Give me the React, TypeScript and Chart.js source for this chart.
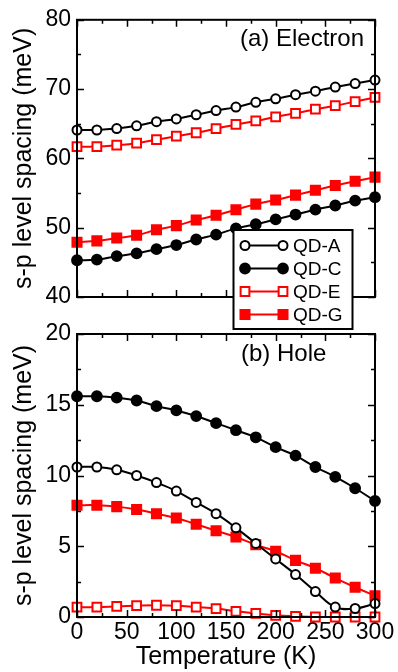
import React, { useEffect, useRef } from 'react';
import { Chart, registerables } from 'chart.js';

Chart.register(...registerables);

// ---------- data ----------
const temperatures = [0, 20, 40, 60, 80, 100, 120, 140, 160, 180, 200, 220, 240, 260, 280, 300];
const seriesNames = ['QD-A', 'QD-C', 'QD-E', 'QD-G'];

const electronA = [64.1, 64.1, 64.3, 64.7, 65.3, 65.7, 66.3, 66.9, 67.4, 68.1, 68.6, 69.2, 69.7, 70.3, 70.8, 71.3];
const electronC = [45.3, 45.4, 45.9, 46.3, 46.9, 47.5, 48.3, 49.0, 49.9, 50.5, 51.2, 51.9, 52.6, 53.2, 53.9, 54.4];
const electronE = [61.7, 61.7, 61.9, 62.2, 62.7, 63.2, 63.7, 64.3, 64.9, 65.4, 66.0, 66.5, 67.1, 67.6, 68.2, 68.8];
const electronG = [47.9, 48.1, 48.5, 48.9, 49.7, 50.3, 51.1, 51.8, 52.6, 53.4, 54.0, 54.7, 55.4, 56.1, 56.7, 57.3];

const holeA = [10.6, 10.6, 10.4, 10.0, 9.5, 8.9, 8.1, 7.3, 6.3, 5.2, 4.1, 3.0, 1.8, 0.7, 0.6, 0.95];
const holeC = [15.6, 15.6, 15.5, 15.3, 14.9, 14.6, 14.2, 13.7, 13.2, 12.7, 12.0, 11.4, 10.6, 9.9, 9.1, 8.2];
const holeE = [0.7, 0.7, 0.75, 0.8, 0.83, 0.8, 0.7, 0.6, 0.4, 0.25, 0.12, 0.05, 0, 0, 0, 0];
const holeG = [7.9, 7.9, 7.8, 7.6, 7.3, 7.0, 6.55, 6.1, 5.65, 5.1, 4.65, 4.0, 3.45, 2.75, 2.1, 1.5];

const electronRange = [40, 80];
const holeRange = [0, 20];
const temperatureRange = [0, 300];

const panelLabels = ['(a) Electron', '(b) Hole'];
const yTitle = 's-p level spacing (meV)';
const xTitle = 'Temperature (K)';

// ---------- styles ----------
const FONT = '"Liberation Sans", Arial, Helvetica, sans-serif';
const W = 398;
const H = 672;

const seriesStyles = [
  { color: '#000000', fill: '#ffffff', pointStyle: 'circle', radius: 4.5 },
  { color: '#000000', fill: '#000000', pointStyle: 'circle', radius: 4.9 },
  { color: '#ff0000', fill: '#ffffff', pointStyle: 'rect', radius: 6.2 },
  { color: '#ff0000', fill: '#ff0000', pointStyle: 'rect', radius: 6.4 },
];

function makeDatasets(series: number[][]) {
  return series.map((vals, i) => {
    const s = seriesStyles[i];
    return {
      label: seriesNames[i],
      data: temperatures.map((t, k) => ({ x: t, y: vals[k] })),
      borderColor: s.color,
      backgroundColor: s.fill,
      borderWidth: 2,
      pointStyle: s.pointStyle,
      pointRadius: s.radius,
      pointHoverRadius: s.radius,
      pointBorderWidth: 2,
      pointBorderColor: s.color,
      pointBackgroundColor: s.fill,
      tension: 0.4,
      clip: false as any,
    };
  });
}

function drawMarker(ctx: CanvasRenderingContext2D, i: number, x: number, y: number) {
  const s = seriesStyles[i];
  ctx.beginPath();
  if (s.pointStyle === 'circle') {
    ctx.arc(x, y, s.radius, 0, Math.PI * 2);
  } else {
    const h = s.radius * Math.SQRT1_2;
    ctx.rect(x - h, y - h, 2 * h, 2 * h);
  }
  ctx.fillStyle = s.fill;
  ctx.fill();
  ctx.lineWidth = 2;
  ctx.strokeStyle = s.color;
  ctx.stroke();
}

const framePlugin = {
  id: 'frameTicks',
  afterDatasetsDraw(chart: any, _args: any, opts: any) {
    const { ctx, chartArea } = chart;
    const { left, right, top, bottom } = chartArea;
    const xs = chart.scales.x;
    const ys = chart.scales.y;
    ctx.save();
    ctx.strokeStyle = '#000';
    ctx.lineWidth = 1.5;
    const major = 7;
    const minor = 4;
    const eps = 1e-6;
    for (let v = xs.min; v <= xs.max + eps; v += opts.xMinor) {
      const px = Math.round(xs.getPixelForValue(v)) + 0.5;
      const isMajor = Math.abs(v / opts.xMajor - Math.round(v / opts.xMajor)) < eps;
      const len = isMajor ? major : minor;
      ctx.beginPath();
      ctx.moveTo(px, bottom);
      ctx.lineTo(px, bottom - len);
      ctx.moveTo(px, top);
      ctx.lineTo(px, top + len);
      ctx.stroke();
    }
    for (let v = ys.min; v <= ys.max + eps; v += opts.yMinor) {
      const py = Math.round(ys.getPixelForValue(v)) + 0.5;
      const isMajor = Math.abs(v / opts.yMajor - Math.round(v / opts.yMajor)) < eps;
      const len = isMajor ? major : minor;
      ctx.beginPath();
      ctx.moveTo(left, py);
      ctx.lineTo(left + len, py);
      ctx.moveTo(right, py);
      ctx.lineTo(right - len, py);
      ctx.stroke();
    }
    ctx.lineWidth = 2;
    ctx.strokeRect(left, top, right - left, bottom - top);

    // panel label
    ctx.fillStyle = '#000';
    ctx.font = `${opts.labelSize}px ${FONT}`;
    ctx.textBaseline = 'alphabetic';
    ctx.textAlign = opts.labelAlign;
    ctx.fillText(opts.label, opts.labelX, opts.labelY);

    // legend
    if (opts.legend) {
      const bx = 233.5, by = 230, bw = 119, bh = 99;
      ctx.fillStyle = '#fff';
      ctx.fillRect(bx, by, bw, bh);
      ctx.lineWidth = 2;
      ctx.strokeStyle = '#000';
      ctx.strokeRect(bx, by, bw, bh);
      ctx.font = `19px ${FONT}`;
      ctx.textAlign = 'left';
      ctx.textBaseline = 'middle';
      chart.data.datasets.forEach((ds: any, i: number) => {
        const cy = 245.5 + i * 23;
        const x1 = 245, x2 = 283;
        ctx.beginPath();
        ctx.moveTo(x1, cy);
        ctx.lineTo(x2, cy);
        ctx.lineWidth = 2;
        ctx.strokeStyle = seriesStyles[i].color;
        ctx.stroke();
        drawMarker(ctx, i, x1, cy);
        drawMarker(ctx, i, x2, cy);
        ctx.fillStyle = '#000';
        ctx.fillText(ds.label, 293, cy + 1);
      });
    }
    ctx.restore();
  },
};

function baseOptions(yRange: number[], yStep: number, bottomPanel: boolean, plugin: any) {
  return {
    responsive: false,
    animation: false as const,
    devicePixelRatio: 1,
    layout: {
      padding: bottomPanel
        ? { left: 0, top: 334, right: 23, bottom: 0 }
        : { left: 0, top: 15, right: 23, bottom: H - 297 },
    },
    plugins: {
      legend: { display: false },
      tooltip: { enabled: false },
      frameTicks: plugin,
    },
    scales: {
      x: {
        type: 'linear' as const,
        min: temperatureRange[0],
        max: temperatureRange[1],
        grid: { display: false, drawTicks: false },
        border: { display: false },
        ticks: {
          display: bottomPanel,
          stepSize: 50,
          padding: 2,
          color: '#000',
          font: { family: FONT, size: 23 },
          maxRotation: 0,
        },
        title: {
          display: bottomPanel,
          text: xTitle,
          color: '#000',
          font: { family: FONT, size: 25 },
          padding: { top: 0, bottom: 0 },
        },
        afterFit: (s: any) => {
          s.height = bottomPanel ? H - 617 : 0;
        },
      },
      y: {
        type: 'linear' as const,
        min: yRange[0],
        max: yRange[1],
        grid: { display: false, drawTicks: false },
        border: { display: false },
        ticks: {
          stepSize: yStep,
          padding: 6,
          color: '#000',
          font: { family: FONT, size: 23 },
        },
        title: {
          display: true,
          text: yTitle,
          color: '#000',
          font: { family: FONT, size: 25 },
          padding: { top: 9, bottom: 0 },
        },
        afterFit: (s: any) => {
          s.width = 77;
        },
      },
    },
  };
}

export default function App() {
  const topRef = useRef<HTMLCanvasElement | null>(null);
  const botRef = useRef<HTMLCanvasElement | null>(null);

  useEffect(() => {
    const top = new Chart(topRef.current as HTMLCanvasElement, {
      type: 'line',
      data: { datasets: makeDatasets([electronA, electronC, electronE, electronG]) as any },
      options: baseOptions(electronRange, 10, false, {
        xMinor: 25, xMajor: 50, yMinor: 5, yMajor: 10,
        label: panelLabels[0], labelX: 364, labelY: 46, labelAlign: 'right', labelSize: 24,
        legend: true,
      }) as any,
      plugins: [framePlugin],
    });
    const bot = new Chart(botRef.current as HTMLCanvasElement, {
      type: 'line',
      data: { datasets: makeDatasets([holeA, holeC, holeE, holeG]) as any },
      options: baseOptions(holeRange, 5, true, {
        xMinor: 25, xMajor: 50, yMinor: 2.5, yMajor: 5,
        label: panelLabels[1], labelX: 241, labelY: 361, labelAlign: 'left', labelSize: 24,
        legend: false,
      }) as any,
      plugins: [framePlugin],
    });
    return () => {
      top.destroy();
      bot.destroy();
    };
  }, []);

  const canvasStyle: React.CSSProperties = { position: 'absolute', left: 0, top: 0, width: W, height: H };
  return (
    <div style={{ position: 'absolute', left: 0, top: 0, width: W, height: H, background: '#fff', overflow: 'hidden' }}>
      <canvas ref={topRef} width={W} height={H} style={canvasStyle} />
      <canvas ref={botRef} width={W} height={H} style={canvasStyle} />
    </div>
  );
}
